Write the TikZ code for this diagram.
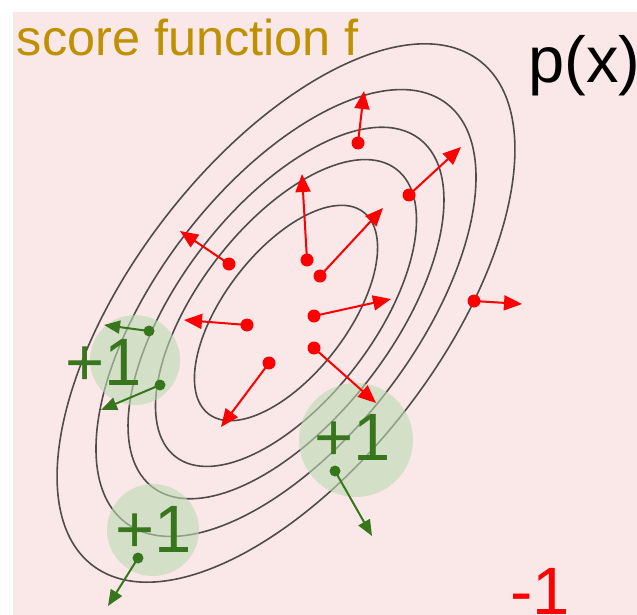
\documentclass[tikz,border=0pt]{standalone}
\usepackage{fontspec}
\setmainfont{Liberation Sans}
\usetikzlibrary{arrows.meta}
\definecolor{bgpink}{RGB}{250,231,231}
\definecolor{gold}{RGB}{191,144,0}
\definecolor{dgreen}{RGB}{56,118,29}
\definecolor{lgreen}{RGB}{188,219,178}
\definecolor{contour}{RGB}{80,76,76}
\tikzset{
  reddot/.style={circle,fill=red,inner sep=0pt,minimum size=6.5pt},
  greendot/.style={circle,fill=dgreen,inner sep=0pt,minimum size=5.5pt},
  redarrow/.style={draw=red,line width=1pt,-{Triangle[length=9pt,width=7.5pt]}},
  greenarrow/.style={draw=dgreen,line width=1pt,-{Triangle[length=8pt,width=6.5pt]}},
  blob/.style={circle,fill=lgreen,fill opacity=0.6,inner sep=0pt},
  contourline/.style={draw=contour,line width=0.8pt},
  plusone/.style={text=dgreen,font=\fontsize{33.5pt}{33.5pt}\selectfont,inner sep=0pt,anchor=base}
}
\begin{document}
\begin{tikzpicture}[x=0.5pt,y=-0.5pt]
\useasboundingbox (0,0) rectangle (637,615);
\fill[white] (0,0) rectangle (637,615);
\fill[bgpink] (13,12) rectangle (637,615);
% contours
\begin{scope}[shift={(286,313)},rotate=52.5]
\foreach \s in {1,0.83,0.69,0.57,0.40}{
  \draw[contourline] (0,0) ellipse [x radius=318*\s, y radius=154*\s];
}
\end{scope}
% green blobs
\node[blob,minimum size=45pt] (b1) at (135,360) {};
\node[blob,minimum size=57pt] (b2) at (356,440) {};
\node[blob,minimum size=46pt] (b3) at (153,530) {};
\node[plusone] (p1) at (104,385) {+1};
\node[plusone] (p2) at (353,460) {+1};
\node[plusone] (p3) at (154,552) {+1};
% red dots and arrows
\foreach \n/\dx/\dy/\tx/\ty in {
  1/358/143/364/91, 2/409/195/461/147, 3/307/260/302/174, 4/229/264/180/231,
  5/320/276/383/208, 6/247/325/184/320, 7/314/316/391/299, 8/474/301/522/304,
  9/269/363/221/427, 10/314/348/376/403}{
  \node[reddot] (r\n) at (\dx,\dy) {};
  \coordinate (rt\n) at (\tx,\ty);
  \draw[redarrow] (r\n.center) -- (rt\n);
}
% green dots and arrows
\foreach \n/\dx/\dy/\tx/\ty in {
  1/149/331/104/325, 2/160/385/101/410, 3/335/471/372/536, 4/138/558/108/606}{
  \node[greendot] (g\n) at (\dx,\dy) {};
  \coordinate (gt\n) at (\tx,\ty);
  \draw[greenarrow] (g\n.center) -- (gt\n);
}
% texts
\node[text=gold,font=\fontsize{25.2pt}{25.2pt}\selectfont,inner sep=0pt,anchor=base west] (title) at (16.5,56) {score function f};
\node[text=black,font=\fontsize{32.5pt}{32.5pt}\selectfont,inner sep=0pt,anchor=base west] (px) at (528,83) {p(x)};
\node[text=red,font=\fontsize{33.5pt}{33.5pt}\selectfont,inner sep=0pt,anchor=base west] (m1) at (510,614) {-1};
\end{tikzpicture}
\end{document}
